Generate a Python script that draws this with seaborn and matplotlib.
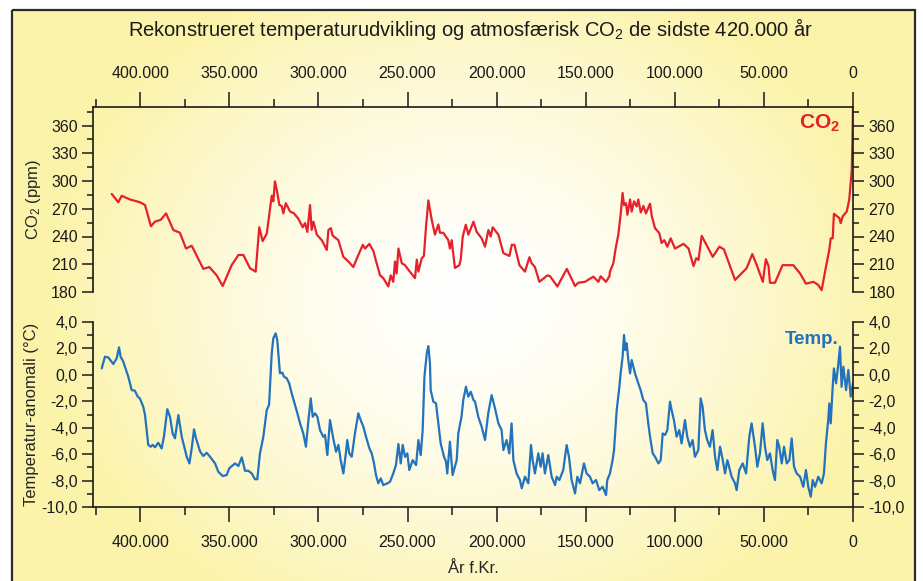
import numpy as np
import pandas as pd
import seaborn as sns
import matplotlib.pyplot as plt
from matplotlib.ticker import MultipleLocator, FuncFormatter
from matplotlib.patches import Rectangle

# data (years in thousands before present)
co2_year = [416.0, 412.3, 410.4, 405.7, 400.1, 397.3, 394.0, 391.8, 388.5, 385.5,
            381.4, 377.7, 374.3, 371.1, 364.6, 361.2, 357.1, 353.7, 348.7, 344.9,
            342.1, 338.4, 335.2, 333.2, 331.3, 329.0, 326.2, 325.3, 324.4, 323.4,
            321.9, 320.6, 319.7, 318.3, 315.9, 313.7, 311.2, 308.8, 307.5, 306.2,
            304.7, 303.8, 302.8, 300.9, 298.1, 295.3, 294.4, 293.0, 292.0, 288.8,
            286.0, 283.2, 280.4, 277.6, 275.1, 273.8, 271.4, 269.1, 267.6, 265.4,
            263.6, 260.8, 259.4, 258.0, 257.0, 256.1, 255.1, 253.2, 251.4, 249.5,
            245.8, 244.8, 243.9, 242.0, 240.8, 239.6, 238.3, 236.4, 234.6, 232.7,
            231.8, 229.9, 227.1, 226.2, 225.2, 223.4, 220.9, 220.1, 219.0, 217.3,
            215.8, 213.0, 211.2, 208.4, 206.5, 204.6, 203.3, 202.2, 199.0, 196.2,
            192.8, 191.5, 190.0, 187.2, 184.1, 181.6, 180.3, 178.5, 176.0, 171.5,
            170.0, 165.9, 160.6, 156.0, 154.2, 150.4, 145.7, 142.9, 141.6, 138.6,
            136.7, 136.4, 134.5, 133.2, 131.7, 130.4, 129.3, 128.5, 127.4, 126.6,
            125.1, 124.2, 122.9, 121.4, 120.5, 119.1, 117.6, 116.2, 113.9, 112.9,
            111.1, 108.7, 107.4, 105.9, 104.2, 102.3, 99.9, 95.1, 92.3, 89.5,
            88.0, 86.7, 84.9, 81.7, 78.7, 75.0, 72.4, 66.2, 59.7, 56.5,
            54.0, 50.6, 48.9, 47.4, 46.6, 43.8, 39.5, 33.5, 29.7, 26.4,
            22.2, 19.5, 17.6, 15.2, 13.3, 12.5, 11.4, 10.7, 7.7, 6.9,
            5.8, 3.5, 2.1, 1.3, 0.7, 0.3, 0.0]
co2_ppm = [286, 277, 284, 280, 277, 274, 251, 256, 258, 265,
           247, 244, 227, 230, 205, 207, 198, 186.5, 209, 220,
           220, 205.7, 202, 250, 235, 243, 284, 278, 299.6, 290.6,
           274, 273, 265, 276, 267, 265, 259, 250, 254.5, 245,
           274, 247, 256, 242, 236, 225.5, 247, 249, 241, 236,
           218, 213, 207, 220, 231, 227, 232, 224, 213, 198,
           195, 186, 198, 191, 213, 200, 227, 211, 209, 204,
           195, 215, 202, 216.5, 219, 251, 279, 258, 242, 253,
           244, 244, 236, 227, 236, 206, 209, 215.5, 240, 252.7,
           242, 256, 245, 238, 229, 247, 240, 250, 242, 222,
           219, 231, 231, 209, 202, 217.6, 211, 207, 191, 198,
           197, 186, 205, 186.5, 190, 191, 196.6, 191, 197, 191,
           197, 202, 211, 227, 242, 263.5, 287, 274, 276, 263.5,
           280, 267, 278, 272.5, 280, 266, 273, 265, 275.5, 261.7,
           249, 243.7, 233, 236, 229, 238, 227, 232, 227, 208,
           216.5, 214.7, 240.7, 229, 218, 229, 226, 193, 205.7, 221,
           209, 191, 215.5, 208, 190, 190, 209, 209, 200, 189,
           191, 187.6, 182, 207, 225.5, 238, 238, 264.6, 260, 254.5,
           261.7, 267, 280, 298, 312, 345, 380]

temp_year = [421.6, 419.8, 417.9, 415.1, 413.2, 411.9, 411.0, 409.5, 406.7, 404.8,
             403.0, 401.4, 400.2, 398.3, 397.3, 396.4, 395.5, 394.1, 393.0, 391.7,
             389.9, 388.0, 386.7, 384.8, 383.3, 381.8, 380.5, 378.6, 376.7, 373.9,
             372.4, 371.1, 369.8, 368.7, 366.4, 364.6, 362.7, 360.8, 358.0, 356.2,
             353.7, 351.5, 350.0, 346.8, 344.9, 343.0, 341.2, 339.3, 337.4, 335.6,
             334.3, 332.8, 330.9, 329.0, 327.7, 326.2, 325.3, 324.0, 323.1, 321.6,
             320.3, 319.3, 317.8, 316.4, 315.0, 313.1, 311.8, 310.3, 308.5, 307.0,
             305.6, 304.3, 303.2, 301.9, 300.6, 299.1, 297.3, 296.3, 295.0, 293.5,
             291.7, 290.1, 288.8, 287.5, 286.0, 284.5, 283.8, 282.7, 281.3, 279.5,
             277.6, 276.3, 274.8, 273.3, 271.4, 270.1, 268.8, 267.7, 266.4, 265.0,
             263.6, 261.3, 259.8, 258.0, 256.5, 255.1, 253.8, 252.7, 251.4, 250.1,
             249.0, 247.1, 245.2, 243.9, 242.6, 241.5, 240.5, 239.2, 238.3, 237.4,
             237.0, 235.5, 234.0, 232.7, 231.4, 229.5, 228.4, 227.7, 226.2, 224.7,
             223.4, 222.4, 221.5, 219.7, 218.7, 217.2, 215.9, 214.5, 213.0, 212.1,
             210.3, 208.4, 206.5, 204.7, 202.8, 200.9, 199.0, 197.2, 196.2, 194.4,
             192.9, 191.6, 190.6, 188.8, 186.9, 185.9, 184.1, 182.2, 180.7, 179.8,
             178.5, 176.6, 175.3, 174.2, 172.9, 171.0, 169.1, 167.2, 166.3, 164.8,
             162.6, 160.7, 159.4, 157.9, 156.0, 154.7, 153.2, 151.0, 149.5, 147.6,
             146.1, 144.2, 142.4, 140.5, 138.6, 137.9, 136.4, 134.9, 134.1, 132.6,
             131.1, 130.4, 129.3, 128.5, 127.8, 127.0, 126.1, 125.1, 124.2, 122.3,
             120.5, 119.2, 117.7, 116.2, 114.9, 113.9, 112.4, 111.1, 109.2, 107.9,
             106.8, 105.5, 104.2, 102.7, 101.8, 100.5, 99.0, 97.5, 96.2, 94.3,
             93.0, 91.5, 90.0, 88.7, 86.8, 85.5, 84.4, 83.1, 81.8, 80.3,
             78.8, 77.4, 76.1, 74.6, 73.1, 71.8, 70.5, 68.1, 66.2, 65.3,
             63.8, 61.9, 60.0, 58.2, 56.9, 55.0, 53.7, 52.2, 50.7, 49.4,
             48.1, 46.6, 45.1, 43.8, 42.5, 41.4, 40.0, 38.7, 37.2, 35.7,
             34.4, 33.1, 31.6, 29.7, 27.9, 26.4, 25.1, 23.7, 22.6, 21.3,
             19.5, 17.6, 16.3, 15.2, 13.9, 13.3, 12.5, 11.4, 10.7, 9.5,
             8.2, 7.3, 6.4, 5.4, 3.9, 2.6, 1.3, 0.0]
temp_anom = [0.49, 1.37, 1.32, 0.82, 1.25, 2.08, 1.37, 1.0, -0.14, -1.15,
             -1.2, -1.65, -1.78, -2.41, -3.04, -4.18, -5.3, -5.44, -5.3, -5.48,
             -5.14, -5.57, -4.68, -2.6, -3.17, -4.43, -4.8, -3.04, -4.68, -6.2,
             -6.7, -5.56, -4.12, -4.8, -5.8, -6.14, -5.9, -6.2, -6.7, -7.33,
             -7.66, -7.58, -7.07, -6.7, -6.9, -6.24, -7.26, -7.26, -7.46, -7.9,
             -7.9, -5.94, -4.68, -2.66, -2.28, 1.63, 2.77, 3.14, 2.64, 0.12,
             0.17, -0.14, -0.26, -0.64, -1.4, -2.28, -2.91, -3.67, -4.43, -5.44,
             -3.42, -1.78, -3.17, -2.91, -3.17, -4.18, -4.68, -4.55, -6.07, -3.42,
             -4.8, -5.82, -5.3, -6.45, -7.46, -5.82, -4.93, -5.94, -6.2, -4.43,
             -2.91, -3.42, -3.92, -4.68, -5.56, -5.94, -6.7, -7.58, -8.21, -7.83,
             -8.34, -8.21, -8.09, -7.46, -6.83, -5.24, -6.7, -5.3, -6.2, -5.94,
             -7.2, -6.45, -6.83, -4.93, -6.07, -4.18, -0.14, 1.63, 2.18, 0.87,
             -1.15, -2.03, -2.16, -3.67, -5.18, -6.2, -6.57, -7.46, -5.06, -7.58,
             -6.95, -6.45, -4.43, -3.17, -1.9, -0.9, -1.65, -1.28, -1.9, -2.03,
             -3.17, -3.92, -4.93, -2.91, -1.53, -2.54, -3.67, -4.18, -5.69, -4.93,
             -5.94, -3.67, -6.45, -7.46, -7.96, -8.59, -7.71, -8.21, -5.31, -6.45,
             -7.46, -5.94, -6.95, -5.94, -7.46, -6.07, -7.71, -8.34, -7.71, -7.96,
             -7.2, -5.31, -6.2, -7.96, -8.97, -7.71, -8.21, -6.7, -7.46, -7.71,
             -8.21, -7.96, -8.72, -8.47, -9.10, -7.96, -7.46, -6.45, -5.69, -2.66,
             -0.9, 0.11, 1.37, 3.02, 1.88, 2.39, 1.12, 0.11, 1.12, 0.11,
             -0.64, -1.15, -1.9, -2.16, -3.67, -4.68, -5.94, -6.2, -6.7, -6.45,
             -4.43, -4.55, -4.18, -2.03, -2.66, -3.42, -4.68, -4.18, -5.19, -3.42,
             -4.68, -5.44, -4.93, -6.2, -5.69, -1.78, -2.41, -4.18, -4.93, -5.44,
             -4.18, -6.2, -7.2, -5.44, -6.45, -7.46, -6.45, -7.71, -8.21, -8.72,
             -7.2, -6.7, -7.46, -4.68, -3.67, -5.44, -6.95, -5.94, -3.67, -5.44,
             -6.45, -5.94, -7.2, -7.96, -4.93, -5.44, -6.7, -5.44, -6.7, -6.45,
             -4.81, -6.95, -7.46, -7.71, -8.47, -7.2, -8.47, -9.22, -7.96, -8.47,
             -7.71, -8.21, -7.46, -5.19, -3.42, -2.16, -3.67, -0.9, 0.49, -0.64,
             0.87, 2.13, -0.9, 0.62, -1.15, 0.37, -1.65, -0.64]

co2 = pd.DataFrame({'year': co2_year, 'ppm': co2_ppm})
temp = pd.DataFrame({'year': temp_year, 'anom': temp_anom})

sns.set_style('white')
plt.rcParams['font.family'] = ['Liberation Sans', 'DejaVu Sans']
plt.rcParams['mathtext.fontset'] = 'custom'
plt.rcParams['mathtext.rm'] = 'Liberation Sans'
plt.rcParams['mathtext.it'] = 'Liberation Sans:italic'
plt.rcParams['mathtext.bf'] = 'Liberation Sans:bold'

W, H = 923, 581
fig = plt.figure(figsize=(W / 100, H / 100), dpi=100)

# yellow background with a soft white glow in the middle
bg = fig.add_axes([0, 0, 1, 1], zorder=-10)
yy, xx = np.mgrid[0:H, 0:W]
r = np.hypot(xx - 465, (yy - 300) * 1.2)
t = np.clip(r / 420, 0, 1) ** 1.5
yellow = np.array([252, 243, 170]) / 255
img = 1 - t[..., None] * (1 - yellow)
img[(xx < 12) | (yy < 10) | (xx > 915)] = 1
bg.imshow(img, extent=[0, W, H, 0], aspect='auto', interpolation='bilinear')
bg.add_patch(Rectangle((12, 10), 903, 600, fill=False, ec='#2b2b2b', lw=1.6))
bg.set_xlim(0, W)
bg.set_ylim(H, 0)
bg.axis('off')

left, width = 93 / W, 760 / W
ax1 = fig.add_axes([left, (H - 292) / H, width, 185 / H])
ax2 = fig.add_axes([left, (H - 507) / H, width, 185 / H])

red = '#e5212b'
blue = '#2272bd'
sns.lineplot(data=co2, x='year', y='ppm', ax=ax1, color=red, lw=1.6,
             estimator=None, sort=False)
sns.lineplot(data=temp, x='year', y='anom', ax=ax2, color=blue, lw=1.6,
             estimator=None, sort=False)

year_fmt = FuncFormatter(lambda v, p: f"{int(round(v * 1000)):,}".replace(',', '.'))
dec_fmt = FuncFormatter(lambda v, p: f"{v:.1f}".replace('.', ','))

for ax in (ax1, ax2):
    ax.set_facecolor('none')
    ax.set_xlim(426.5, 0)
    ax.xaxis.set_major_locator(MultipleLocator(50))
    ax.xaxis.set_minor_locator(MultipleLocator(25))
    ax.xaxis.set_major_formatter(year_fmt)
    for s in ax.spines.values():
        s.set_color('#1a1a1a')
        s.set_linewidth(1.2)
    ax.tick_params(axis='y', which='both', left=True, right=True,
                   labelleft=True, labelright=True, direction='out',
                   colors='#1a1a1a', labelsize=11.5, width=1.1)
    ax.tick_params(axis='y', which='major', length=8, pad=3)
    ax.tick_params(axis='y', which='minor', length=4)
    ax.tick_params(axis='x', which='major', length=11, width=1.1,
                   labelsize=11.5, pad=9, colors='#1a1a1a')
    ax.tick_params(axis='x', which='minor', length=6, width=1.1, colors='#1a1a1a')

ax1.set_ylim(180, 380)
ax1.yaxis.set_major_locator(MultipleLocator(30))
ax1.yaxis.set_minor_locator(MultipleLocator(15))
ax1.set_yticks(range(180, 361, 30))
ax1.spines['bottom'].set_visible(False)
ax1.tick_params(axis='x', which='both', bottom=False, labelbottom=False,
                top=True, labeltop=True)
ax1.tick_params(axis='x', which='major', pad=8)
ax1.set_xlabel('')
ax1.set_ylabel('CO$_2$ (ppm)', fontsize=12)
ax1.yaxis.set_label_coords(-0.066, 0.5)

ax2.set_ylim(-10, 4)
ax2.yaxis.set_major_locator(MultipleLocator(2))
ax2.yaxis.set_minor_locator(MultipleLocator(1))
ax2.yaxis.set_major_formatter(dec_fmt)
ax2.spines['top'].set_visible(False)
ax2.tick_params(axis='x', which='both', bottom=True, labelbottom=True,
                top=False, labeltop=False)
ax2.set_xlabel('År f.Kr.', fontsize=12, labelpad=8)
ax2.set_ylabel('Temperatur-anomali (°C)', fontsize=12)
ax2.yaxis.set_label_coords(-0.071, 0.5)

fig.text(470 / W, 1 - 29 / H,
         'Rekonstrueret temperaturudvikling og atmosfærisk CO$_2$ de sidste 420.000 år',
         ha='center', va='center', fontsize=14.5, color='#1a1a1a')
fig.text(820 / W, 1 - 123 / H, r'CO$_\mathbf{2}$', color=red, fontsize=15,
         fontweight='bold', ha='center', va='center')
fig.text(812 / W, 1 - 340 / H, 'Temp.', color=blue, fontsize=13.5,
         fontweight='bold', ha='center', va='center')

fig.savefig('out.png', dpi=100)
